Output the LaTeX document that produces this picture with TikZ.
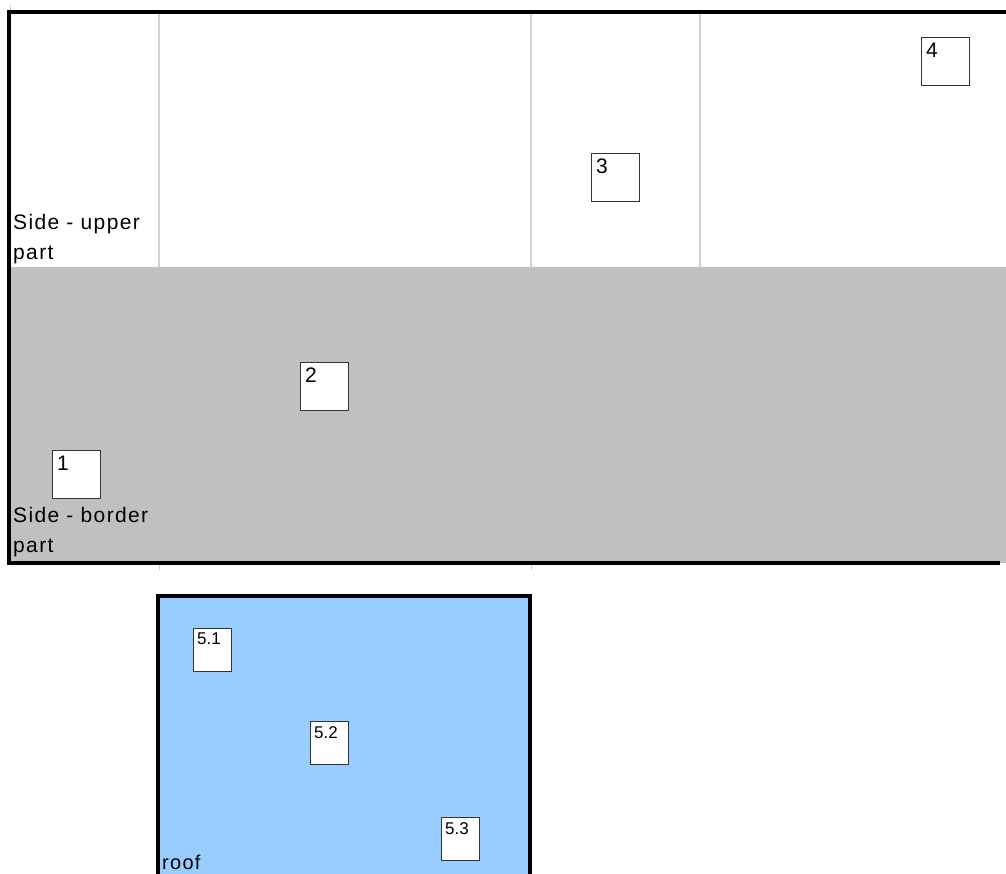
\documentclass[tikz,border=0pt]{standalone}
\usepackage{fontspec}
\setmainfont{Liberation Sans}
\definecolor{bordergray}{HTML}{C0C0C0}
\definecolor{roofblue}{HTML}{99CCFF}
\definecolor{gridgray}{HTML}{D0D0D0}
\definecolor{boxline}{HTML}{333333}
\tikzset{
  frameline/.style={line width=3.2pt},
  gridline/.style={gridgray, line width=1.4pt},
  zonetext/.style={anchor=north west, align=left,
    font=\fontsize{21}{30}\selectfont\addfontfeature{LetterSpace=6.5}},
  numtext/.style={anchor=north west, inner sep=0pt, xshift=5pt, yshift=-6pt,
    font=\fontsize{21}{21}\selectfont},
  roofnum/.style={numtext, xshift=-1pt, yshift=1pt, font=\fontsize{17}{17}\selectfont},
  cellbox/.style={draw=boxline, fill=white, line width=1.2pt, anchor=north west,
    minimum width=48, minimum height=48},
  roofbox/.style={cellbox, minimum width=38, minimum height=43},
}
\begin{document}
\begin{tikzpicture}[x=1pt, y=-1pt, every node/.style={inner sep=0pt}]

\useasboundingbox (0,0) rectangle (1006,874);
\fill[white] (0,0) rectangle (1006,874);

% side wall: upper part white, border part grey
\fill[bordergray] (10,267) rectangle (1006,563);
\foreach \gx in {159,531,700}
  \draw[gridline] (\gx,12) -- (\gx,267);
\draw[gridline, line width=0.8pt] (10,5) -- (10,12);
\draw[gridline, line width=0.8pt] (159,563) -- (159,570);
\draw[gridline, line width=0.8pt] (531,563) -- (531,570);
\draw[frameline] (1006,12) -- (9,12) -- (9,563) -- (1000,563);

% roof
\begin{scope}
  \clip (0,0) rectangle (1006,874);
  \fill[roofblue] (158,596) rectangle (530,880);
  \draw[frameline] (158,880) -- (158,596) -- (530,596) -- (530,880);
\end{scope}

% zone labels
\node[zonetext] (upper) at (13,214) {Side - upper\\part};
\node[zonetext] (lower) at (13,507) {Side - border\\part};
\node[zonetext, font=\fontsize{20}{20}\selectfont\addfontfeature{LetterSpace=6.5},
  anchor=south west] (roof) at (162,870) {roof};

% measuring points
\node[cellbox, label={[numtext]north west:1}] (p1) at (52,450) {};
\node[cellbox, label={[numtext]north west:2}] (p2) at (300,362) {};
\node[cellbox, label={[numtext]north west:3}] (p3) at (591,153) {};
\node[cellbox, label={[numtext]north west:4}] (p4) at (921,37) {};
\node[roofbox, label={[roofnum]north west:5.1}] (p51) at (193,628) {};
\node[roofbox, label={[roofnum]north west:5.2}] (p52) at (310,721) {};
\node[roofbox, label={[roofnum]north west:5.3}] (p53) at (441,817) {};

\end{tikzpicture}
\end{document}
